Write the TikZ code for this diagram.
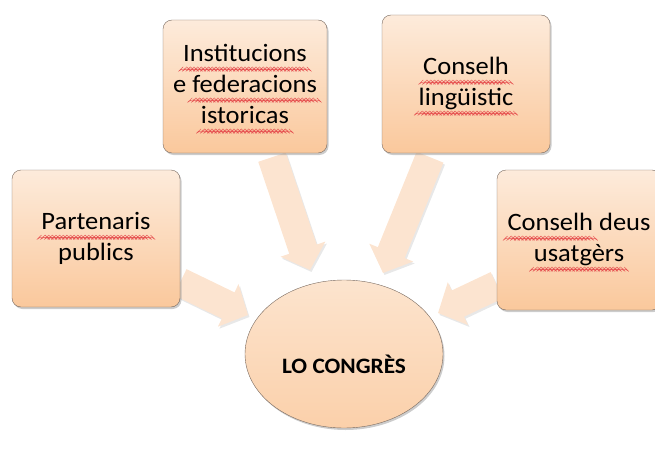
\documentclass[tikz,border=0pt]{standalone}
\usepackage{fontspec}
\setmainfont{Carlito}[FakeStretch=1.06]
\usetikzlibrary{arrows.meta,shadows,shapes.geometric,backgrounds}

\definecolor{panelTop}{RGB}{253,235,219}
\definecolor{panelBottom}{RGB}{250,200,156}
\definecolor{hubTop}{RGB}{252,228,206}
\definecolor{hubBottom}{RGB}{251,208,170}
\definecolor{flowFill}{RGB}{252,228,208}
\definecolor{panelLine}{RGB}{120,105,95}
\definecolor{spellRed}{RGB}{230,80,80}

% red spell-check wave under a word
\newsavebox\squigbox
\newcommand\waveunit{%
	\begin{pgfpicture}%
		\pgfsetlinewidth{0.4pt}\pgfsetstrokecolor{spellRed}%
		\pgfpathmoveto{\pgfpointorigin}%
		\pgfpathlineto{\pgfpoint{1.8pt}{1.7pt}}%
		\pgfpathlineto{\pgfpoint{3.6pt}{0pt}}%
		\pgfusepath{stroke}%
		\pgfresetboundingbox
		\pgfpathrectangle{\pgfpointorigin}{\pgfpoint{3.6pt}{1.7pt}}%
		\pgfusepath{use as bounding box}%
	\end{pgfpicture}}
\newcommand\squig[1]{\sbox\squigbox{#1}%
	\rlap{\lower5.5pt\hbox to\wd\squigbox{\xleaders\hbox{\waveunit}\hfil}}\usebox\squigbox}

\begin{document}
\begin{tikzpicture}[x=1pt,y=1pt,
		panel/.style={
			draw=panelLine,
			rounded corners=9pt,
			top color=panelTop,
			bottom color=panelBottom,
			drop shadow={shadow xshift=1.5pt, shadow yshift=-2pt, fill=black!40, opacity=0.5},
			align=center,
			minimum width=168pt,
			minimum height=137pt,
			font=\fontsize{25}{31}\selectfont
		},
		hub/.style={
			ellipse,
			draw=panelLine,
			top color=hubTop,
			bottom color=hubBottom,
			drop shadow={shadow xshift=1.5pt, shadow yshift=-2pt, fill=black!40, opacity=0.5},
			minimum width=198pt,
			minimum height=148pt,
			font=\bfseries\fontsize{22}{26}\selectfont
		},
		flow/.style={
			draw=flowFill,
			line width=29pt,
			-{Triangle[width=46pt,length=22pt]}
		},
		flowshadow/.style={
			flow,
			draw=black!9,
			transform canvas={shift={(1.5pt,-2pt)}}
		}
		]
		
		\clip (0,0) rectangle (655,448);
		
		\node[panel] (partenaris) at (96,209.5) {\squig{Partenaris}\\publics};
		\node[panel, minimum width=164pt, minimum height=133pt]
			(institucions) at (245,361.5) {\squig{Institucions}\\e \squig{federacions}\\\squig{istoricas}};
		\node[panel, minimum height=138pt] (linguistic) at (466,364) {\squig{Conselh}\\\squig{lingüistic}};
		\node[panel, minimum width=164pt, minimum height=140pt] (usatgers) at (579,208) {\squig{Conselh} deus\\\squig{usatgèrs}};
		
		\node[hub] (congres) at (344,94) {\raisebox{-19pt}[0pt][0pt]{LO CONGRÈS}};
		
		% arrow ends
		\coordinate (srcP) at ([yshift=25pt]partenaris.south east);
		\coordinate (srcI) at ([xshift=27pt,yshift=-4pt]institucions.south);
		\coordinate (srcL) at ([xshift=-36pt,yshift=-4pt]linguistic.south);
		\coordinate (srcU) at ([yshift=25pt]usatgers.south west);
		\coordinate (tipP) at ([shift={(-96,39)}]congres.center);
		\coordinate (tipI) at ([shift={(-34,84)}]congres.center);
		\coordinate (tipL) at ([shift={(39,81)}]congres.center);
		\coordinate (tipU) at ([shift={(94,41)}]congres.center);
		
		\begin{scope}[on background layer]
			\foreach \s/\t in {srcP/tipP, srcI/tipI, srcL/tipL, srcU/tipU} {
				\draw[flowshadow] (\s) -- (\t);
				\draw[flow] (\s) -- (\t);
			}
		\end{scope}
		
	\end{tikzpicture}
\end{document}
